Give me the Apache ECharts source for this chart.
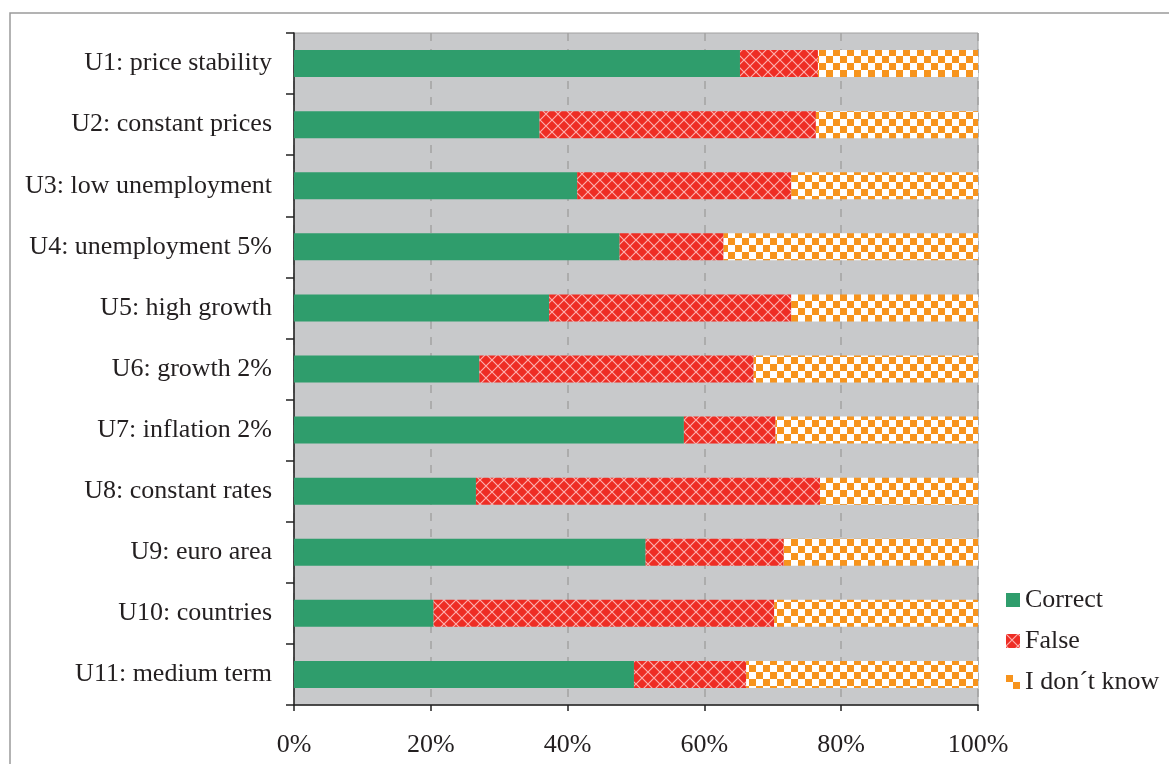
<!DOCTYPE html>
<html>
<head>
<meta charset="utf-8">
<script src="https://cdn.jsdelivr.net/npm/echarts@6/dist/echarts.min.js"></script>
<style>
  html, body { margin: 0; padding: 0; background: #fff; }
  #barChart { width: 1169px; height: 764px; }
</style>
</head>
<body>
<div id="barChart"></div>
<script>
// data (percent of answers)
const categories = ['U1: price stability', 'U2: constant prices', 'U3: low unemployment', 'U4: unemployment 5%',
  'U5: high growth', 'U6: growth 2%', 'U7: inflation 2%', 'U8: constant rates', 'U9: euro area',
  'U10: countries', 'U11: medium term']
const correct = [65.2, 35.9, 41.4, 47.6, 37.3, 27.1, 57.0, 26.6, 51.4, 20.4, 49.7]
const falseAns = [11.4, 40.4, 31.3, 15.2, 35.4, 40.1, 13.4, 50.3, 20.2, 49.8, 16.4]
const dontKnow = [23.4, 23.7, 27.3, 37.2, 27.3, 32.8, 29.6, 23.1, 28.4, 29.8, 33.9]
const seriesNames = ['Correct', 'False', 'I don´t know']

const font = 'Liberation Serif'
const fontSize = 26
const textColor = '#231f20'

// red fill with light diagonal lattice
function latticePattern () {
  let c = document.createElement('canvas')
  c.width = 12
  c.height = 12
  let ctx = c.getContext('2d')
  ctx.fillStyle = '#ee2d24'
  ctx.fillRect(0, 0, 12, 12)
  ctx.strokeStyle = 'rgba(255, 190, 190, 0.9)'
  ctx.lineWidth = 1.2
  ctx.beginPath()
  ctx.moveTo(0, 0); ctx.lineTo(12, 12)
  ctx.moveTo(12, 0); ctx.lineTo(0, 12)
  ctx.stroke()
  return c
}

// orange / white checkerboard
function checkerPattern () {
  let s = 7
  let c = document.createElement('canvas')
  c.width = s * 2
  c.height = s * 2
  let ctx = c.getContext('2d')
  ctx.fillStyle = '#ffffff'
  ctx.fillRect(0, 0, s * 2, s * 2)
  ctx.fillStyle = '#f7941d'
  ctx.fillRect(0, 0, s, s)
  ctx.fillRect(s, s, s, s)
  return c
}

let myChart = echarts.init(document.getElementById('barChart'), null, {renderer: 'canvas'})
myChart.setOption({
  animation: false,
  graphic: [
    {
      type: 'rect',
      shape: {x: 10, y: 13, width: 1300, height: 900},
      style: {fill: 'none', stroke: '#9a9a9a', lineWidth: 1.5},
      silent: true
    }
  ],
  grid: {
    show: true,
    left: 294,
    right: 191,
    top: 33,
    bottom: 59,
    backgroundColor: '#c8c9cb',
    borderColor: '#a0a0a0',
    borderWidth: 1
  },
  legend: {
    orient: 'vertical',
    left: 1001,
    top: 582,
    itemWidth: 14,
    itemHeight: 14,
    itemGap: 15,
    icon: 'rect',
    data: seriesNames,
    textStyle: {
      fontFamily: font,
      fontSize: fontSize,
      color: textColor
    }
  },
  xAxis: {
    type: 'value',
    min: 0,
    max: 100,
    interval: 20,
    axisLine: {show: true, lineStyle: {color: '#222', width: 1.5}},
    axisTick: {show: true, length: 6, lineStyle: {color: '#222', width: 1.5}},
    axisLabel: {
      formatter: '{value}%',
      margin: 27,
      fontFamily: font,
      fontSize: fontSize,
      color: textColor
    },
    splitLine: {
      show: true,
      lineStyle: {color: '#a3a3a3', width: 1.5, type: [8, 8]}
    }
  },
  yAxis: {
    type: 'category',
    inverse: true,
    data: categories,
    axisLine: {show: true, lineStyle: {color: '#222', width: 1.5}},
    axisTick: {show: true, length: 8, lineStyle: {color: '#222', width: 1.5}},
    axisLabel: {
      margin: 22,
      padding: [5, 0, 0, 0],
      fontFamily: font,
      fontSize: fontSize,
      color: textColor
    },
    splitLine: {show: false}
  },
  series: [
    {
      name: seriesNames[0],
      type: 'bar',
      stack: 'total',
      barWidth: 27,
      data: correct,
      itemStyle: {color: '#2f9d6c'}
    },
    {
      name: seriesNames[1],
      type: 'bar',
      stack: 'total',
      barWidth: 27,
      data: falseAns,
      itemStyle: {color: {image: latticePattern(), repeat: 'repeat'}}
    },
    {
      name: seriesNames[2],
      type: 'bar',
      stack: 'total',
      barWidth: 27,
      data: dontKnow,
      itemStyle: {color: {image: checkerPattern(), repeat: 'repeat'}}
    }
  ]
})
</script>
</body>
</html>
